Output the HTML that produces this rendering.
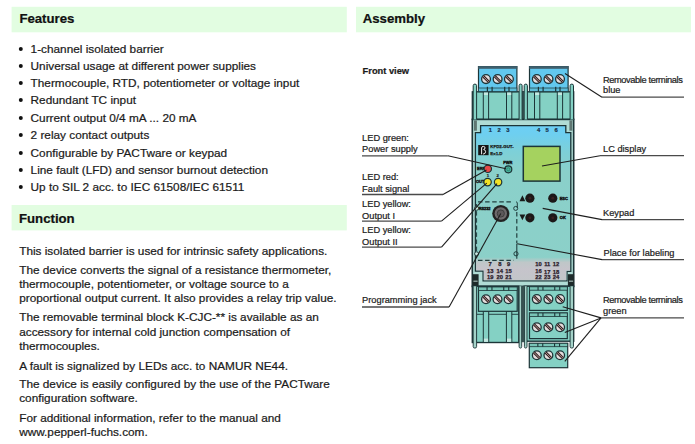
<!DOCTYPE html>
<html><head><meta charset="utf-8"><style>
html,body{margin:0;padding:0;background:#fff;width:695px;height:444px;overflow:hidden}
svg{position:absolute;left:0;top:0;font-family:"Liberation Sans",sans-serif}
</style></head><body>
<svg width="695" height="444" viewBox="0 0 695 444">
<rect x="11.6" y="6.8" width="335.2" height="25.5" fill="#e2fde1"/>
<rect x="11.6" y="205" width="335.2" height="25.4" fill="#e2fde1"/>
<rect x="356" y="6.8" width="335" height="25.5" fill="#e2fde1"/>
<text x="19.4" y="22.9" font-size="13.2" font-weight="bold" fill="#111" stroke="#111" stroke-width="0.22" >Features</text>
<text x="362.7" y="22.8" font-size="13.2" font-weight="bold" fill="#111" stroke="#111" stroke-width="0.22" >Assembly</text>
<text x="19" y="223.4" font-size="13.2" font-weight="bold" fill="#111" stroke="#111" stroke-width="0.22" >Function</text>
<circle cx="20.8" cy="48.9" r="2" fill="#111"/>
<text x="30.6" y="53" font-size="11.8" font-weight="normal" fill="#1b1b1b" stroke="#1b1b1b" stroke-width="0.22" >1-channel isolated barrier</text>
<circle cx="20.8" cy="65.9" r="2" fill="#111"/>
<text x="30.6" y="70" font-size="11.8" font-weight="normal" fill="#1b1b1b" stroke="#1b1b1b" stroke-width="0.22" >Universal usage at different power supplies</text>
<circle cx="20.8" cy="82.9" r="2" fill="#111"/>
<text x="30.6" y="87" font-size="11.8" font-weight="normal" fill="#1b1b1b" stroke="#1b1b1b" stroke-width="0.22" >Thermocouple, RTD, potentiometer or voltage input</text>
<circle cx="20.8" cy="99.9" r="2" fill="#111"/>
<text x="30.6" y="104" font-size="11.8" font-weight="normal" fill="#1b1b1b" stroke="#1b1b1b" stroke-width="0.22" >Redundant TC input</text>
<circle cx="20.8" cy="117.9" r="2" fill="#111"/>
<text x="30.6" y="122" font-size="11.8" font-weight="normal" fill="#1b1b1b" stroke="#1b1b1b" stroke-width="0.22" >Current output 0/4 mA ... 20 mA</text>
<circle cx="20.8" cy="134.9" r="2" fill="#111"/>
<text x="30.6" y="139" font-size="11.8" font-weight="normal" fill="#1b1b1b" stroke="#1b1b1b" stroke-width="0.22" >2 relay contact outputs</text>
<circle cx="20.8" cy="152.9" r="2" fill="#111"/>
<text x="30.6" y="157" font-size="11.8" font-weight="normal" fill="#1b1b1b" stroke="#1b1b1b" stroke-width="0.22" >Configurable by PACTware or keypad</text>
<circle cx="20.8" cy="169.9" r="2" fill="#111"/>
<text x="30.6" y="174" font-size="11.8" font-weight="normal" fill="#1b1b1b" stroke="#1b1b1b" stroke-width="0.22" >Line fault (LFD) and sensor burnout detection</text>
<circle cx="20.8" cy="186.9" r="2" fill="#111"/>
<text x="30.6" y="191" font-size="11.8" font-weight="normal" fill="#1b1b1b" stroke="#1b1b1b" stroke-width="0.22" >Up to SIL 2 acc. to IEC 61508/IEC 61511</text>
<text x="19.2" y="255" font-size="11.8" font-weight="normal" fill="#1b1b1b" stroke="#1b1b1b" stroke-width="0.22" >This isolated barrier is used for intrinsic safety applications.</text>
<text x="19.2" y="274" font-size="11.8" font-weight="normal" fill="#1b1b1b" stroke="#1b1b1b" stroke-width="0.22" >The device converts the signal of a resistance thermometer,</text>
<text x="19.2" y="288" font-size="11.8" font-weight="normal" fill="#1b1b1b" stroke="#1b1b1b" stroke-width="0.22" >thermocouple, potentiometer, or voltage source to a</text>
<text x="19.2" y="302" font-size="11.8" font-weight="normal" fill="#1b1b1b" stroke="#1b1b1b" stroke-width="0.22" >proportional output current. It also provides a relay trip value.</text>
<text x="19.2" y="321" font-size="11.8" font-weight="normal" fill="#1b1b1b" stroke="#1b1b1b" stroke-width="0.22" >The removable terminal block K-CJC-** is available as an</text>
<text x="19.2" y="336" font-size="11.8" font-weight="normal" fill="#1b1b1b" stroke="#1b1b1b" stroke-width="0.22" >accessory for internal cold junction compensation of</text>
<text x="19.2" y="350" font-size="11.8" font-weight="normal" fill="#1b1b1b" stroke="#1b1b1b" stroke-width="0.22" >thermocouples.</text>
<text x="19.2" y="370" font-size="11.8" font-weight="normal" fill="#1b1b1b" stroke="#1b1b1b" stroke-width="0.22" >A fault is signalized by LEDs acc. to NAMUR NE44.</text>
<text x="19.2" y="388" font-size="11.8" font-weight="normal" fill="#1b1b1b" stroke="#1b1b1b" stroke-width="0.22" >The device is easily configured by the use of the PACTware</text>
<text x="19.2" y="402" font-size="11.8" font-weight="normal" fill="#1b1b1b" stroke="#1b1b1b" stroke-width="0.22" >configuration software.</text>
<text x="19.2" y="422" font-size="11.8" font-weight="normal" fill="#1b1b1b" stroke="#1b1b1b" stroke-width="0.22" >For additional information, refer to the manual and</text>
<text x="19.2" y="436" font-size="11.8" font-weight="normal" fill="#1b1b1b" stroke="#1b1b1b" stroke-width="0.22" >www.pepperl-fuchs.com.</text>
<text x="362.6" y="73.9" font-size="9.3" font-weight="bold" fill="#1a1a1a" stroke="#1a1a1a" stroke-width="0.22" >Front view</text>
<text x="362.1" y="141" font-size="9.25" font-weight="normal" fill="#222" stroke="#222" stroke-width="0.22" >LED green:</text>
<text x="362.1" y="152" font-size="9.25" font-weight="normal" fill="#222" stroke="#222" stroke-width="0.22" >Power supply</text>
<text x="362.1" y="180" font-size="9.25" font-weight="normal" fill="#222" stroke="#222" stroke-width="0.22" >LED red:</text>
<text x="362.1" y="192" font-size="9.25" font-weight="normal" fill="#222" stroke="#222" stroke-width="0.22" >Fault signal</text>
<text x="362.1" y="207" font-size="9.25" font-weight="normal" fill="#222" stroke="#222" stroke-width="0.22" >LED yellow:</text>
<text x="362.1" y="219" font-size="9.25" font-weight="normal" fill="#222" stroke="#222" stroke-width="0.22" >Output I</text>
<text x="362.1" y="233" font-size="9.25" font-weight="normal" fill="#222" stroke="#222" stroke-width="0.22" >LED yellow:</text>
<text x="362.1" y="245" font-size="9.25" font-weight="normal" fill="#222" stroke="#222" stroke-width="0.22" >Output II</text>
<text x="362.1" y="303" font-size="9.25" font-weight="normal" fill="#222" stroke="#222" stroke-width="0.22" >Programming jack</text>
<text x="603" y="83" font-size="9.25" font-weight="normal" fill="#222" stroke="#222" stroke-width="0.22" letter-spacing="-0.39">Removable terminals</text>
<text x="603" y="93" font-size="9.25" font-weight="normal" fill="#222" stroke="#222" stroke-width="0.22" >blue</text>
<text x="603" y="152" font-size="9.25" font-weight="normal" fill="#222" stroke="#222" stroke-width="0.22" >LC display</text>
<text x="603" y="216" font-size="9.25" font-weight="normal" fill="#222" stroke="#222" stroke-width="0.22" >Keypad</text>
<text x="603.5" y="256" font-size="9.25" font-weight="normal" fill="#222" stroke="#222" stroke-width="0.22" >Place for labeling</text>
<text x="603" y="303" font-size="9.25" font-weight="normal" fill="#222" stroke="#222" stroke-width="0.22" letter-spacing="-0.39">Removable terminals</text>
<text x="603" y="314" font-size="9.25" font-weight="normal" fill="#222" stroke="#222" stroke-width="0.22" >green</text>
<line x1="362" y1="155.8" x2="447.8" y2="155.8" stroke="#4a4a4a" stroke-width="1.3"/>
<line x1="362" y1="194.5" x2="443" y2="194.5" stroke="#4a4a4a" stroke-width="1.3"/>
<line x1="362" y1="221.1" x2="441.5" y2="221.1" stroke="#4a4a4a" stroke-width="1.3"/>
<line x1="362" y1="247.1" x2="441.5" y2="247.1" stroke="#4a4a4a" stroke-width="1.3"/>
<line x1="362" y1="307.0" x2="449.1" y2="307.0" stroke="#4a4a4a" stroke-width="1.3"/>
<line x1="602" y1="97.2" x2="684" y2="97.2" stroke="#4a4a4a" stroke-width="1.3"/>
<line x1="600" y1="155.7" x2="684" y2="155.7" stroke="#4a4a4a" stroke-width="1.3"/>
<line x1="602" y1="219.6" x2="684" y2="219.6" stroke="#4a4a4a" stroke-width="1.3"/>
<line x1="602" y1="259.6" x2="684" y2="259.6" stroke="#4a4a4a" stroke-width="1.3"/>
<line x1="601" y1="317.9" x2="684" y2="317.9" stroke="#4a4a4a" stroke-width="1.3"/>
<rect x="472.3" y="91.8" width="101.4" height="27.6" fill="#84d1c4" stroke="#1c3538" stroke-width="1.3"/>
<rect x="521.6" y="91.8" width="2.5" height="27.6" fill="#3e5757"/>
<rect x="483.3" y="91.8" width="5.3" height="27.6" fill="#84d1c4" stroke="#1c3538" stroke-width="1"/>
<rect x="483.90000000000003" y="92.4" width="4.1" height="2.6" fill="#c6e9e2"/>
<rect x="506.5" y="91.8" width="5.3" height="27.6" fill="#84d1c4" stroke="#1c3538" stroke-width="1"/>
<rect x="507.1" y="92.4" width="4.1" height="2.6" fill="#c6e9e2"/>
<rect x="534.5" y="91.8" width="5.3" height="27.6" fill="#84d1c4" stroke="#1c3538" stroke-width="1"/>
<rect x="535.1" y="92.4" width="4.1" height="2.6" fill="#c6e9e2"/>
<rect x="557.3" y="91.8" width="5.3" height="27.6" fill="#84d1c4" stroke="#1c3538" stroke-width="1"/>
<rect x="557.9" y="92.4" width="4.1" height="2.6" fill="#c6e9e2"/>
<rect x="478.5" y="66.6" width="38.4" height="25" fill="#62c8ee" stroke="#1c3538" stroke-width="1.2"/>
<rect x="478.2" y="66.1" width="39.0" height="2.7" fill="#3f5f6d"/>
<rect x="478.5" y="88" width="38.4" height="3.6" fill="#5dbcd8" stroke="#1c3538" stroke-width="0.7"/>
<rect x="486.8" y="86.8" width="1.2" height="4.8" fill="#1c3538"/>
<rect x="491.5" y="86.8" width="1.2" height="4.8" fill="#1c3538"/>
<rect x="504.1" y="86.8" width="1.2" height="4.8" fill="#1c3538"/>
<rect x="508.4" y="86.8" width="1.2" height="4.8" fill="#1c3538"/>
<rect x="529.5" y="66.6" width="38.6" height="25" fill="#62c8ee" stroke="#1c3538" stroke-width="1.2"/>
<rect x="529.2" y="66.1" width="39.2" height="2.7" fill="#3f5f6d"/>
<rect x="529.5" y="88" width="38.6" height="3.6" fill="#5dbcd8" stroke="#1c3538" stroke-width="0.7"/>
<rect x="537.8" y="86.8" width="1.2" height="4.8" fill="#1c3538"/>
<rect x="542.5" y="86.8" width="1.2" height="4.8" fill="#1c3538"/>
<rect x="555.1" y="86.8" width="1.2" height="4.8" fill="#1c3538"/>
<rect x="559.4" y="86.8" width="1.2" height="4.8" fill="#1c3538"/>
<circle cx="486" cy="79.1" r="4.4" fill="#e6dcdc" stroke="#1c3538" stroke-width="1.3"/>
<g transform="translate(486,79.1) rotate(45)"><rect x="-4.0" y="-1.3" width="8.0" height="2.6" fill="#2a2222"/><line x1="-4.0" y1="0" x2="4.0" y2="0" stroke="#d9a0a0" stroke-width="0.8"/></g>
<circle cx="497.6" cy="79.1" r="4.4" fill="#e6dcdc" stroke="#1c3538" stroke-width="1.3"/>
<g transform="translate(497.6,79.1) rotate(45)"><rect x="-4.0" y="-1.3" width="8.0" height="2.6" fill="#2a2222"/><line x1="-4.0" y1="0" x2="4.0" y2="0" stroke="#d9a0a0" stroke-width="0.8"/></g>
<circle cx="508.9" cy="79.1" r="4.4" fill="#e6dcdc" stroke="#1c3538" stroke-width="1.3"/>
<g transform="translate(508.9,79.1) rotate(45)"><rect x="-4.0" y="-1.3" width="8.0" height="2.6" fill="#2a2222"/><line x1="-4.0" y1="0" x2="4.0" y2="0" stroke="#d9a0a0" stroke-width="0.8"/></g>
<circle cx="536.8" cy="79.1" r="4.4" fill="#e6dcdc" stroke="#1c3538" stroke-width="1.3"/>
<g transform="translate(536.8,79.1) rotate(45)"><rect x="-4.0" y="-1.3" width="8.0" height="2.6" fill="#2a2222"/><line x1="-4.0" y1="0" x2="4.0" y2="0" stroke="#d9a0a0" stroke-width="0.8"/></g>
<circle cx="548.5" cy="79.1" r="4.4" fill="#e6dcdc" stroke="#1c3538" stroke-width="1.3"/>
<g transform="translate(548.5,79.1) rotate(45)"><rect x="-4.0" y="-1.3" width="8.0" height="2.6" fill="#2a2222"/><line x1="-4.0" y1="0" x2="4.0" y2="0" stroke="#d9a0a0" stroke-width="0.8"/></g>
<circle cx="560" cy="79.1" r="4.4" fill="#e6dcdc" stroke="#1c3538" stroke-width="1.3"/>
<g transform="translate(560,79.1) rotate(45)"><rect x="-4.0" y="-1.3" width="8.0" height="2.6" fill="#2a2222"/><line x1="-4.0" y1="0" x2="4.0" y2="0" stroke="#d9a0a0" stroke-width="0.8"/></g>
<rect x="472.3" y="119.4" width="101.4" height="167" fill="#b0dcd5" stroke="#1c3538" stroke-width="1.6"/>
<rect x="473.9" y="120.4" width="3" height="10.3" fill="#5f7672"/>
<rect x="569.4" y="120.4" width="3" height="10.3" fill="#5f7672"/>
<defs><linearGradient id="pg" gradientUnits="userSpaceOnUse" x1="0" y1="125" x2="0" y2="281"><stop offset="0" stop-color="#6ccff5"/><stop offset="0.06" stop-color="#6ecff0"/><stop offset="0.17" stop-color="#7dd0d8"/><stop offset="0.3" stop-color="#8ad0ca"/><stop offset="1" stop-color="#8cd0c8"/></linearGradient><linearGradient id="gg" gradientUnits="userSpaceOnUse" x1="0" y1="257" x2="0" y2="281"><stop offset="0" stop-color="#8cd0c8"/><stop offset="0.22" stop-color="#bfc7c8"/><stop offset="0.5" stop-color="#c6c4cb"/><stop offset="1" stop-color="#c3c6c9"/></linearGradient></defs>
<path d="M480.6,125.7 H565.8 V132.6 H570.8 V271.4 H567 V280.8 H483.1 V271 H475.4 V132.6 H480.6 Z" fill="url(#pg)" stroke="#1c3538" stroke-width="1.3"/>
<path d="M476.1,257.5 H570.1 V270.8 H566.4 V280.2 H483.7 V270.4 H476.1 Z" fill="url(#gg)"/>
<text x="490.4" y="132.1" font-size="5.8" font-weight="bold" fill="#17304a" text-anchor="middle" stroke="#17304a" stroke-width="0.2">1</text>
<text x="499" y="132.1" font-size="5.8" font-weight="bold" fill="#17304a" text-anchor="middle" stroke="#17304a" stroke-width="0.2">2</text>
<text x="507.8" y="132.1" font-size="5.8" font-weight="bold" fill="#17304a" text-anchor="middle" stroke="#17304a" stroke-width="0.2">3</text>
<text x="538.7" y="132.1" font-size="5.8" font-weight="bold" fill="#17304a" text-anchor="middle" stroke="#17304a" stroke-width="0.2">4</text>
<text x="547" y="132.1" font-size="5.8" font-weight="bold" fill="#17304a" text-anchor="middle" stroke="#17304a" stroke-width="0.2">5</text>
<text x="556" y="132.1" font-size="5.8" font-weight="bold" fill="#17304a" text-anchor="middle" stroke="#17304a" stroke-width="0.2">6</text>
<rect x="478.2" y="145" width="10.4" height="10.2" fill="#151515"/>
<path d="M481.6,154.3 V148 q0,-1.6 1.7,-1.6 q1.7,0 1.7,1.5 q0,1.3 -1.4,1.6 q2,0.3 2,2.2 q0,2.3 -2.6,2.4" fill="none" stroke="#f2f2f2" stroke-width="1.0"/>
<text x="490.3" y="148.3" font-size="4.4" font-weight="bold" fill="#1a1a1a" text-anchor="start" stroke="#1a1a1a" stroke-width="0.25">KFD2-GUT-</text>
<text x="490.3" y="155" font-size="4.4" font-weight="bold" fill="#1a1a1a" text-anchor="start" stroke="#1a1a1a" stroke-width="0.25">Ex1.D</text>
<rect x="523.3" y="146.4" width="36.7" height="34.7" fill="#a5d25f" stroke="#1c3538" stroke-width="1.5"/>
<text x="507.8" y="164.4" font-size="4.0" font-weight="bold" fill="#111" text-anchor="middle" stroke="#111" stroke-width="0.35">PWR</text>
<text x="481.2" y="170.2" font-size="4.0" font-weight="bold" fill="#111" text-anchor="middle" stroke="#111" stroke-width="0.35">ERR</text>
<text x="480.2" y="183.4" font-size="4.0" font-weight="bold" fill="#111" text-anchor="middle" stroke="#111" stroke-width="0.35">OUT</text>
<text x="488" y="177" font-size="4.2" font-weight="bold" fill="#1a1a1a" text-anchor="middle" stroke="#1a1a1a" stroke-width="0.2">1</text>
<text x="497.6" y="177" font-size="4.2" font-weight="bold" fill="#1a1a1a" text-anchor="middle" stroke="#1a1a1a" stroke-width="0.2">2</text>
<circle cx="508.3" cy="169.3" r="3.5" fill="#48b59e" stroke="#1c3538" stroke-width="1.2"/>
<circle cx="508.3" cy="169.3" r="1.5" fill="none" stroke="#2b6a5c" stroke-width="0.6"/>
<circle cx="487.8" cy="168.8" r="3.7" fill="#e64848" stroke="#1c3538" stroke-width="1.2"/>
<circle cx="487.6" cy="182.1" r="3.7" fill="#f2e226" stroke="#1c3538" stroke-width="1.2"/>
<circle cx="498.1" cy="182.1" r="3.7" fill="#f2e226" stroke="#1c3538" stroke-width="1.2"/>
<path d="M478,201.8 H513.5" fill="none" stroke="#213f3f" stroke-width="1.2" stroke-dasharray="4.5,2.6"/>
<path d="M478,260.3 H513.8" fill="none" stroke="#213f3f" stroke-width="1.2" stroke-dasharray="4.5,2.6"/>
<path d="M516.8,212 V243" fill="none" stroke="#213f3f" stroke-width="1.2" stroke-dasharray="4.5,2.6"/>
<line x1="476.6" y1="204" x2="476.6" y2="258" stroke="#213f3f" stroke-width="1" stroke-dasharray="4.5,2.6"/>
<circle cx="476.6" cy="208.3" r="2" fill="#c8e6e0" stroke="#213f3f" stroke-width="1"/>
<circle cx="476.6" cy="253.8" r="2" fill="#c8e6e0" stroke="#213f3f" stroke-width="1"/>
<circle cx="515.7" cy="208.4" r="2" fill="none" stroke="#213f3f" stroke-width="1"/>
<path d="M517.3,208 V203 q0,-1 -1.2,-1.2" fill="none" stroke="#213f3f" stroke-width="1"/>
<circle cx="516" cy="253.8" r="2.1" fill="none" stroke="#213f3f" stroke-width="1"/>
<line x1="516.8" y1="243.5" x2="516.8" y2="258.8" stroke="#213f3f" stroke-width="1.1"/>
<text x="484.6" y="209.7" font-size="3.9" font-weight="bold" fill="#111" text-anchor="middle" stroke="#111" stroke-width="0.4">RS232</text>
<circle cx="500.8" cy="213.5" r="8.6" fill="#222"/>
<circle cx="500.8" cy="213.5" r="6.2" fill="#6e6a6c"/>
<circle cx="500.8" cy="213.5" r="3.6" fill="#5c585a" stroke="#3a3a3a" stroke-width="0.9"/>
<circle cx="529.9" cy="198.2" r="4.6" fill="#1c1818"/>
<circle cx="529.9" cy="198.2" r="1.4" fill="#3a2020"/>
<circle cx="552.8" cy="198.2" r="4.6" fill="#1c1818"/>
<circle cx="552.8" cy="198.2" r="1.4" fill="#3a2020"/>
<circle cx="529.9" cy="217.8" r="4.6" fill="#1c1818"/>
<circle cx="529.9" cy="217.8" r="1.4" fill="#3a2020"/>
<circle cx="552.8" cy="217.8" r="4.6" fill="#1c1818"/>
<circle cx="552.8" cy="217.8" r="1.4" fill="#3a2020"/>
<path d="M519.5,201.2 L522.4,195.3 L525.3,201.2 Z" fill="#1a1a1a"/>
<path d="M519.5,214.4 L522.4,220.3 L525.3,214.4 Z" fill="#1a1a1a"/>
<text x="563.8" y="199.7" font-size="4.0" font-weight="bold" fill="#111" text-anchor="middle" stroke="#111" stroke-width="0.4">ESC</text>
<text x="562.8" y="219.3" font-size="4.0" font-weight="bold" fill="#111" text-anchor="middle" stroke="#111" stroke-width="0.4">OK</text>
<text x="490" y="266.4" font-size="5.8" font-weight="bold" fill="#2a1a2a" text-anchor="middle" stroke="#2a1a2a" stroke-width="0.25">7</text>
<text x="499.8" y="266.4" font-size="5.8" font-weight="bold" fill="#2a1a2a" text-anchor="middle" stroke="#2a1a2a" stroke-width="0.25">8</text>
<text x="508.5" y="266.4" font-size="5.8" font-weight="bold" fill="#2a1a2a" text-anchor="middle" stroke="#2a1a2a" stroke-width="0.25">9</text>
<text x="538.4" y="266.4" font-size="5.8" font-weight="bold" fill="#2a1a2a" text-anchor="middle" stroke="#2a1a2a" stroke-width="0.25">10</text>
<text x="547.2" y="266.4" font-size="5.8" font-weight="bold" fill="#2a1a2a" text-anchor="middle" stroke="#2a1a2a" stroke-width="0.25">11</text>
<text x="556" y="266.4" font-size="5.8" font-weight="bold" fill="#2a1a2a" text-anchor="middle" stroke="#2a1a2a" stroke-width="0.25">12</text>
<text x="490.3" y="272.6" font-size="5.8" font-weight="bold" fill="#2a1a2a" text-anchor="middle" stroke="#2a1a2a" stroke-width="0.25">13</text>
<text x="499.8" y="272.6" font-size="5.8" font-weight="bold" fill="#2a1a2a" text-anchor="middle" stroke="#2a1a2a" stroke-width="0.25">14</text>
<text x="508.5" y="272.6" font-size="5.8" font-weight="bold" fill="#2a1a2a" text-anchor="middle" stroke="#2a1a2a" stroke-width="0.25">15</text>
<text x="538.4" y="272.6" font-size="5.8" font-weight="bold" fill="#2a1a2a" text-anchor="middle" stroke="#2a1a2a" stroke-width="0.25">16</text>
<text x="547.2" y="274.1" font-size="5.8" font-weight="bold" fill="#2a1a2a" text-anchor="middle" stroke="#2a1a2a" stroke-width="0.25">17</text>
<text x="556" y="274.1" font-size="5.8" font-weight="bold" fill="#2a1a2a" text-anchor="middle" stroke="#2a1a2a" stroke-width="0.25">18</text>
<text x="490.3" y="279.4" font-size="5.8" font-weight="bold" fill="#2a1a2a" text-anchor="middle" stroke="#2a1a2a" stroke-width="0.25">19</text>
<text x="499.8" y="279.4" font-size="5.8" font-weight="bold" fill="#2a1a2a" text-anchor="middle" stroke="#2a1a2a" stroke-width="0.25">20</text>
<text x="508.5" y="279.4" font-size="5.8" font-weight="bold" fill="#2a1a2a" text-anchor="middle" stroke="#2a1a2a" stroke-width="0.25">21</text>
<text x="538.4" y="279.4" font-size="5.8" font-weight="bold" fill="#2a1a2a" text-anchor="middle" stroke="#2a1a2a" stroke-width="0.25">22</text>
<text x="547.2" y="279.4" font-size="5.8" font-weight="bold" fill="#2a1a2a" text-anchor="middle" stroke="#2a1a2a" stroke-width="0.25">23</text>
<text x="556" y="279.4" font-size="5.8" font-weight="bold" fill="#2a1a2a" text-anchor="middle" stroke="#2a1a2a" stroke-width="0.25">24</text>
<rect x="472.4" y="274.2" width="6.2" height="12" fill="#1e2a2a"/>
<rect x="473.4" y="280.6" width="4.2" height="1.2" fill="#9fb5b0"/>
<rect x="567.9" y="274.2" width="6.2" height="12" fill="#1e2a2a"/>
<rect x="568.9" y="280.6" width="4.2" height="1.2" fill="#9fb5b0"/>
<rect x="472.3" y="286.2" width="46.5" height="56.3" fill="#84d1c4" stroke="#1c3538" stroke-width="1.4"/>
<rect x="524.2" y="286.2" width="49.5" height="55" fill="#84d1c4" stroke="#1c3538" stroke-width="1.4"/>
<rect x="518.8" y="286.2" width="5.6" height="56" fill="#3e5757"/>
<line x1="476.3" y1="286.2" x2="476.3" y2="342.5" stroke="#1c3538" stroke-width="0.9"/>
<line x1="476.3" y1="314.3" x2="518.8" y2="314.3" stroke="#1c3538" stroke-width="0.9"/>
<rect x="483.3" y="311" width="5.4" height="31.5" fill="#84d1c4" stroke="#1c3538" stroke-width="1"/>
<rect x="483.90000000000003" y="338.6" width="4.2" height="3.2" fill="#c6e9e2"/>
<rect x="506.4" y="311" width="5.4" height="31.5" fill="#84d1c4" stroke="#1c3538" stroke-width="1"/>
<rect x="507.0" y="338.6" width="4.2" height="3.2" fill="#c6e9e2"/>
<path d="M473.2,119.4 V85.6 a1.7,1.5 0 0 1 3.4,0 V119.4" fill="#84d1c4" stroke="#1c3538" stroke-width="1"/>
<path d="M519.1,119.4 V85.6 a1.5,1.5 0 0 1 3.0,0 V119.4" fill="#84d1c4" stroke="#1c3538" stroke-width="1"/>
<path d="M524.2,119.4 V85.6 a1.6,1.5 0 0 1 3.2,0 V119.4" fill="#84d1c4" stroke="#1c3538" stroke-width="1"/>
<path d="M570.1,119.4 V85.6 a1.7,1.5 0 0 1 3.4,0 V119.4" fill="#84d1c4" stroke="#1c3538" stroke-width="1"/>
<path d="M473.2,286.2 V346.6 a1.7,1.5 0 0 0 3.4,0 V286.2" fill="#a4d2c8" stroke="#1c3538" stroke-width="0.9"/>
<path d="M519.1,286.2 V346.6 a1.3,1.5 0 0 0 2.6,0 V286.2" fill="#a4d2c8" stroke="#1c3538" stroke-width="0.9"/>
<path d="M524.4,286.2 V346.6 a1.3,1.5 0 0 0 2.6,0 V286.2" fill="#a4d2c8" stroke="#1c3538" stroke-width="0.9"/>
<path d="M570.1,286.2 V346.6 a1.7,1.5 0 0 0 3.4,0 V286.2" fill="#a4d2c8" stroke="#1c3538" stroke-width="0.9"/>
<rect x="478.5" y="287" width="38.7" height="24.3" fill="#84d1c4" stroke="#1c3538" stroke-width="1.2"/>
<rect x="478.5" y="287" width="38.7" height="3.4" fill="#79c4b6" stroke="#1c3538" stroke-width="0.8"/>
<rect x="486.5" y="287" width="1.1" height="3.4" fill="#1c3538"/>
<rect x="491.4" y="287" width="1.1" height="3.4" fill="#1c3538"/>
<rect x="503.2" y="287" width="1.1" height="3.4" fill="#1c3538"/>
<rect x="508.2" y="287" width="1.1" height="3.4" fill="#1c3538"/>
<rect x="529.5" y="286.8" width="37.8" height="23.6" fill="#84d1c4" stroke="#1c3538" stroke-width="1.2"/>
<rect x="529.5" y="286.8" width="37.8" height="3.4" fill="#79c4b6" stroke="#1c3538" stroke-width="0.8"/>
<rect x="537.5" y="286.8" width="1.1" height="3.4" fill="#1c3538"/>
<rect x="542.4" y="286.8" width="1.1" height="3.4" fill="#1c3538"/>
<rect x="554.2" y="286.8" width="1.1" height="3.4" fill="#1c3538"/>
<rect x="559.2" y="286.8" width="1.1" height="3.4" fill="#1c3538"/>
<rect x="529.5" y="313" width="37.8" height="25.6" fill="#84d1c4" stroke="#1c3538" stroke-width="1.2"/>
<rect x="529.5" y="313" width="37.8" height="3.4" fill="#79c4b6" stroke="#1c3538" stroke-width="0.8"/>
<rect x="537.5" y="313" width="1.1" height="3.4" fill="#1c3538"/>
<rect x="542.4" y="313" width="1.1" height="3.4" fill="#1c3538"/>
<rect x="554.2" y="313" width="1.1" height="3.4" fill="#1c3538"/>
<rect x="559.2" y="313" width="1.1" height="3.4" fill="#1c3538"/>
<rect x="529.3" y="343.3" width="38.4" height="24.4" fill="#84d1c4" stroke="#1c3538" stroke-width="1.2"/>
<rect x="529.3" y="343.3" width="38.4" height="3.4" fill="#79c4b6" stroke="#1c3538" stroke-width="0.8"/>
<rect x="537.3" y="343.3" width="1.1" height="3.4" fill="#1c3538"/>
<rect x="542.1999999999999" y="343.3" width="1.1" height="3.4" fill="#1c3538"/>
<rect x="554.0" y="343.3" width="1.1" height="3.4" fill="#1c3538"/>
<rect x="559.0" y="343.3" width="1.1" height="3.4" fill="#1c3538"/>
<circle cx="486" cy="299.2" r="4.4" fill="#e6dcdc" stroke="#1c3538" stroke-width="1.3"/>
<g transform="translate(486,299.2) rotate(45)"><rect x="-4.0" y="-1.3" width="8.0" height="2.6" fill="#2a2222"/><line x1="-4.0" y1="0" x2="4.0" y2="0" stroke="#d9a0a0" stroke-width="0.8"/></g>
<circle cx="497.5" cy="299.2" r="4.4" fill="#e6dcdc" stroke="#1c3538" stroke-width="1.3"/>
<g transform="translate(497.5,299.2) rotate(45)"><rect x="-4.0" y="-1.3" width="8.0" height="2.6" fill="#2a2222"/><line x1="-4.0" y1="0" x2="4.0" y2="0" stroke="#d9a0a0" stroke-width="0.8"/></g>
<circle cx="508.6" cy="299.2" r="4.4" fill="#e6dcdc" stroke="#1c3538" stroke-width="1.3"/>
<g transform="translate(508.6,299.2) rotate(45)"><rect x="-4.0" y="-1.3" width="8.0" height="2.6" fill="#2a2222"/><line x1="-4.0" y1="0" x2="4.0" y2="0" stroke="#d9a0a0" stroke-width="0.8"/></g>
<circle cx="536.8" cy="299.1" r="4.4" fill="#e6dcdc" stroke="#1c3538" stroke-width="1.3"/>
<g transform="translate(536.8,299.1) rotate(45)"><rect x="-4.0" y="-1.3" width="8.0" height="2.6" fill="#2a2222"/><line x1="-4.0" y1="0" x2="4.0" y2="0" stroke="#d9a0a0" stroke-width="0.8"/></g>
<circle cx="548.4" cy="299.1" r="4.4" fill="#e6dcdc" stroke="#1c3538" stroke-width="1.3"/>
<g transform="translate(548.4,299.1) rotate(45)"><rect x="-4.0" y="-1.3" width="8.0" height="2.6" fill="#2a2222"/><line x1="-4.0" y1="0" x2="4.0" y2="0" stroke="#d9a0a0" stroke-width="0.8"/></g>
<circle cx="560.1" cy="299.1" r="4.4" fill="#e6dcdc" stroke="#1c3538" stroke-width="1.3"/>
<g transform="translate(560.1,299.1) rotate(45)"><rect x="-4.0" y="-1.3" width="8.0" height="2.6" fill="#2a2222"/><line x1="-4.0" y1="0" x2="4.0" y2="0" stroke="#d9a0a0" stroke-width="0.8"/></g>
<circle cx="536.8" cy="327.2" r="4.4" fill="#e6dcdc" stroke="#1c3538" stroke-width="1.3"/>
<g transform="translate(536.8,327.2) rotate(45)"><rect x="-4.0" y="-1.3" width="8.0" height="2.6" fill="#2a2222"/><line x1="-4.0" y1="0" x2="4.0" y2="0" stroke="#d9a0a0" stroke-width="0.8"/></g>
<circle cx="548.4" cy="327.2" r="4.4" fill="#e6dcdc" stroke="#1c3538" stroke-width="1.3"/>
<g transform="translate(548.4,327.2) rotate(45)"><rect x="-4.0" y="-1.3" width="8.0" height="2.6" fill="#2a2222"/><line x1="-4.0" y1="0" x2="4.0" y2="0" stroke="#d9a0a0" stroke-width="0.8"/></g>
<circle cx="560.1" cy="327.2" r="4.4" fill="#e6dcdc" stroke="#1c3538" stroke-width="1.3"/>
<g transform="translate(560.1,327.2) rotate(45)"><rect x="-4.0" y="-1.3" width="8.0" height="2.6" fill="#2a2222"/><line x1="-4.0" y1="0" x2="4.0" y2="0" stroke="#d9a0a0" stroke-width="0.8"/></g>
<circle cx="536.8" cy="355.3" r="4.4" fill="#e6dcdc" stroke="#1c3538" stroke-width="1.3"/>
<g transform="translate(536.8,355.3) rotate(45)"><rect x="-4.0" y="-1.3" width="8.0" height="2.6" fill="#2a2222"/><line x1="-4.0" y1="0" x2="4.0" y2="0" stroke="#d9a0a0" stroke-width="0.8"/></g>
<circle cx="548.4" cy="355.3" r="4.4" fill="#e6dcdc" stroke="#1c3538" stroke-width="1.3"/>
<g transform="translate(548.4,355.3) rotate(45)"><rect x="-4.0" y="-1.3" width="8.0" height="2.6" fill="#2a2222"/><line x1="-4.0" y1="0" x2="4.0" y2="0" stroke="#d9a0a0" stroke-width="0.8"/></g>
<circle cx="560.1" cy="355.3" r="4.4" fill="#e6dcdc" stroke="#1c3538" stroke-width="1.3"/>
<g transform="translate(560.1,355.3) rotate(45)"><rect x="-4.0" y="-1.3" width="8.0" height="2.6" fill="#2a2222"/><line x1="-4.0" y1="0" x2="4.0" y2="0" stroke="#d9a0a0" stroke-width="0.8"/></g>
<line x1="447.8" y1="155.8" x2="506" y2="168.8" stroke="#1e1e1e" stroke-width="1.1"/>
<line x1="443" y1="194.5" x2="486.5" y2="170" stroke="#1e1e1e" stroke-width="1.1"/>
<line x1="441.5" y1="221.1" x2="486.8" y2="183.2" stroke="#1e1e1e" stroke-width="1.1"/>
<line x1="441.5" y1="247.1" x2="497" y2="183.6" stroke="#1e1e1e" stroke-width="1.1"/>
<line x1="449.1" y1="307.0" x2="500.8" y2="213.5" stroke="#1e1e1e" stroke-width="1.1"/>
<line x1="602" y1="97.2" x2="565" y2="73.5" stroke="#1e1e1e" stroke-width="1.1"/>
<line x1="600" y1="155.7" x2="542" y2="166" stroke="#1e1e1e" stroke-width="1.1"/>
<line x1="602" y1="219.6" x2="542.7" y2="208.4" stroke="#1e1e1e" stroke-width="1.1"/>
<line x1="602" y1="259.6" x2="517.2" y2="243.7" stroke="#1e1e1e" stroke-width="1.1"/>
<line x1="601" y1="317.9" x2="562.7" y2="306.7" stroke="#1e1e1e" stroke-width="1.1"/>
<line x1="601" y1="317.9" x2="564.8" y2="332.4" stroke="#1e1e1e" stroke-width="1.1"/>
<line x1="601" y1="317.9" x2="564.8" y2="361.3" stroke="#1e1e1e" stroke-width="1.1"/>
</svg>
</body></html>
